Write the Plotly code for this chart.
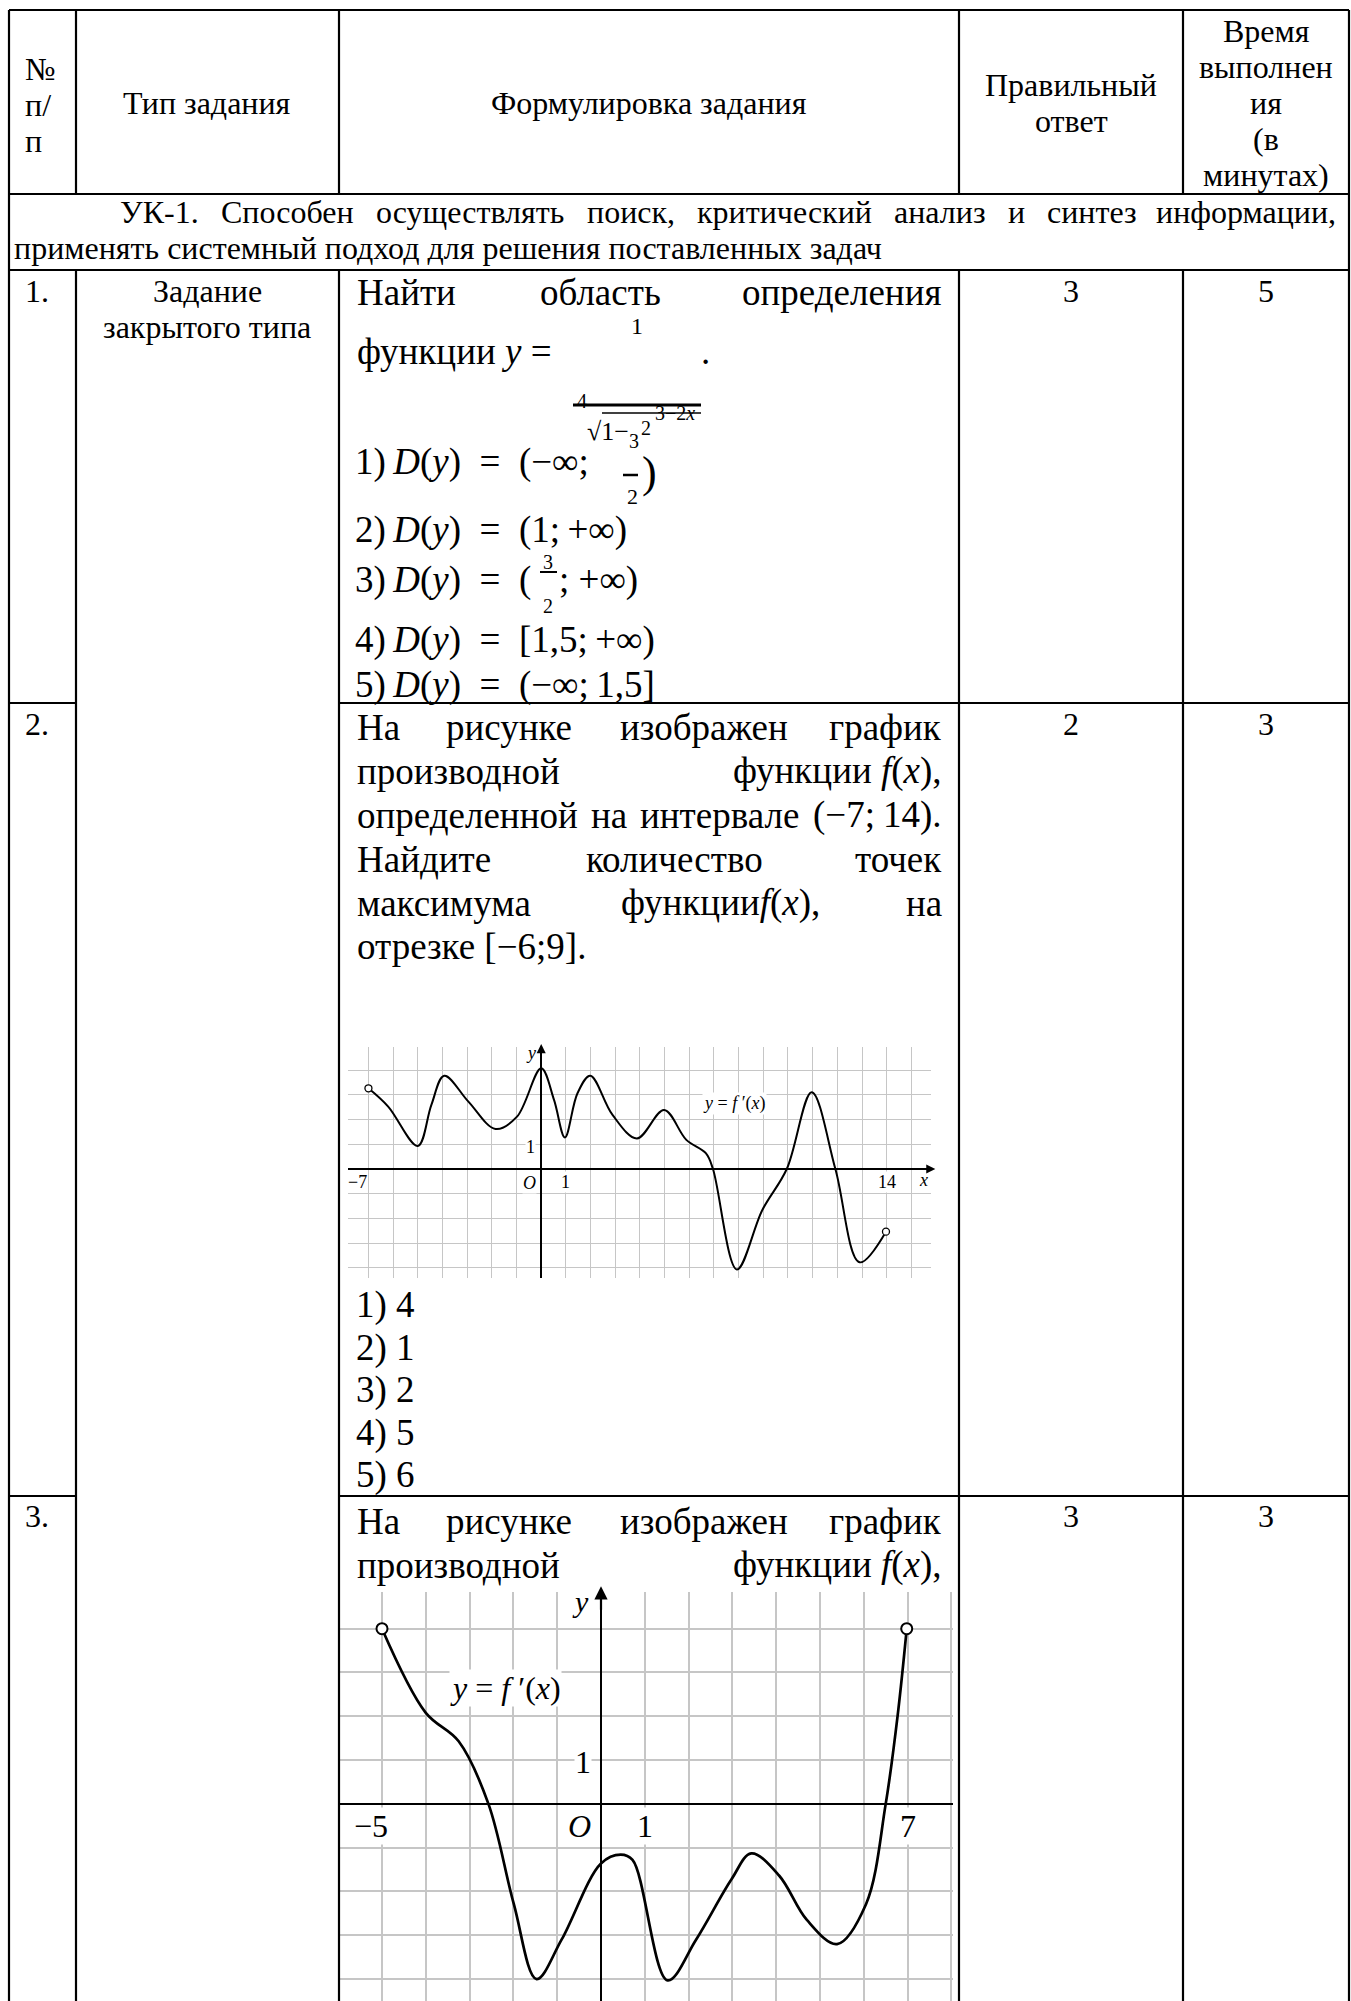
import re
import plotly.graph_objects as go

W, H = 1351, 2001

# ---------------- data ----------------
# graph in task 2: y = f'(x) on (-7; 14)
g1_x = [-7, -6.2, -5, -4.45, -3.93, -2.95, -1.85, -0.98, 0, 0.52, 0.96, 1.47, 1.99,
        2.89, 3.88, 4.98, 5.88, 6.67, 6.96, 7.93, 8.96, 9.95, 10.96, 11.92, 12.9, 13.97]
g1_y = [3.27, 2.53, 0.93, 2.6, 3.78, 2.73, 1.62, 2.12, 4.08, 2.8, 1.28, 3.07, 3.78,
        2.19, 1.24, 2.39, 1.18, 0.64, 0.0, -4.07, -1.66, 0.0, 3.11, 0.0, -3.78, -2.54]
g1_ticks_x = ["−7", "1", "14"]
g1_ticks_xv = [-7, 1, 14]

# graph in task 3: y = f'(x) on (-5; 7)
g2_x = [-5, -4, -3.25, -2.57, -1.99, -1.47, -0.9, 0, 0.45, 0.72, 1.52, 2.17, 2.98,
        3.43, 4.07, 4.7, 5.39, 6.05, 6.5, 6.78, 6.98]
g2_y = [4.0, 2.08, 1.43, 0.0, -2.29, -4.0, -3.1, -1.36, -1.16, -1.28, -4.03, -3.1, -1.72,
        -1.13, -1.64, -2.65, -3.2, -2.29, 0.0, 2.08, 4.0]
g2_ticks_x = ["−5", "1", "7"]
g2_ticks_xv = [-5, 1, 7]

header_no = ["№", "п/", "п"]
header_type = "Тип задания"
header_form = "Формулировка задания"
header_ans = ["Правильный", "ответ"]
header_time = ["Время", "выполнен", "ия", "(в", "минутах)"]
uk_line1 = ["УК-1.", "Способен", "осуществлять", "поиск,", "критический", "анализ", "и", "синтез", "информации,"]
uk_line2 = "применять системный подход для решения поставленных задач"
task_nums = ["1.", "2.", "3."]
task_type = ["Задание", "закрытого типа"]
answers = ["3", "2", "3"]
times = ["5", "3", "3"]
t2_options = ["1) 4", "2) 1", "3) 2", "4) 5", "5) 6"]

# ---------------- helpers ----------------
CW = {'а': .444, 'б': .509, 'в': .472, 'г': .410, 'д': .509, 'е': .444, 'ж': .691, 'з': .395,
      'и': .535, 'й': .535, 'к': .486, 'л': .499, 'м': .633, 'н': .535, 'о': .5, 'п': .535,
      'р': .5, 'с': .444, 'т': .437, 'у': .5, 'ф': .648, 'х': .5, 'ц': .535, 'ч': .503,
      'ш': .770, 'щ': .770, 'ъ': .517, 'ы': .672, 'ь': .456, 'э': .429, 'ю': .747, 'я': .485,
      'Н': .722, 'У': .707, 'К': .667, 'С': .667, 'Ф': .790, 'Т': .611, 'П': .722, 'В': .667,
      'З': .501, ' ': .25, ',': .25, '.': .25, ';': .278, '(': .333, ')': .333, '[': .333,
      ']': .333, '-': .333, '−': .564, '=': .564, '+': .564, '∞': .713, 'f': .278, 'x': .444,
      'y': .444, 'D': .722}
FONT = "Liberation Serif"


def tw(s, fs):
    s = re.sub(r"<[^>]+>", "", s)
    return sum(CW.get(c, 0.5) for c in s) * fs


anns = []
shapes = []


def px(x):
    return x / W


def py(y):
    return 1 - y / H


def txt(t, x, y, fs, anchor="left", ref="paper", bg=None):
    d = dict(text=t, showarrow=False, font=dict(family=FONT, size=fs, color="black"),
             xanchor=anchor, yanchor="middle")
    if ref == "paper":
        d.update(x=px(x), y=py(y), xref="paper", yref="paper")
    else:
        d.update(x=x, y=y, xref="x" + ref, yref="y" + ref)
    if bg:
        d.update(bgcolor=bg, borderpad=0)
    anns.append(d)


def justify(words, left, right, y, fs):
    ws = [tw(w, fs) for w in words]
    gap = (right - left - sum(ws)) / (len(words) - 1)
    x = left
    for i, (w, wd) in enumerate(zip(words, ws)):
        if i == len(words) - 1:
            txt(w, right, y, fs, "right")
        else:
            txt(w, x, y, fs, "left")
            x += wd + gap


def hline(x0, x1, y, w=2.2):
    shapes.append(dict(type="line", xref="paper", yref="paper", x0=px(x0), x1=px(x1),
                       y0=py(y), y1=py(y), line=dict(color="black", width=w)))


def vline(x, y0, y1, w=2.2):
    shapes.append(dict(type="line", xref="paper", yref="paper", x0=px(x), x1=px(x),
                       y0=py(y0), y1=py(y1), line=dict(color="black", width=w)))


# ---------------- table grid ----------------
C = [9, 76, 339, 959, 1183, 1349]
R_TOP, R_HEAD, R_UK, R_1, R_2 = 10, 194, 270, 703, 1496
hline(C[0], C[-1], R_TOP)
hline(C[0], C[-1], R_HEAD)
hline(C[0], C[-1], R_UK)
for yy in (R_1, R_2):
    hline(C[0], C[1], yy)
    hline(C[2], C[-1], yy)
for c in C:
    vline(c, R_TOP, R_HEAD)
vline(C[0], R_HEAD, R_UK)
vline(C[-1], R_HEAD, R_UK)
for c in C:
    vline(c, R_UK, H + 5)

FS_S = 32   # 12 pt
FS_L = 37   # 14 pt

# header
for i, t in enumerate(header_no):
    txt(t, 23, 69 + 36 * i, FS_S)
txt(header_type, (C[1] + C[2]) / 2, 103, FS_S, "center")
txt(header_form, (C[2] + C[3]) / 2, 103, FS_S, "center")
for i, t in enumerate(header_ans):
    txt(t, (C[3] + C[4]) / 2, 85 + 36 * i, FS_S, "center")
for i, t in enumerate(header_time):
    txt(t, (C[4] + C[5]) / 2, 31 + 36 * i, FS_S, "center")

# competence row
justify(uk_line1, 118, 1338, 212, FS_S)
txt(uk_line2, 12, 248, FS_S)

# left / right columns
row_y = [291, 724, 1516]
for i in range(3):
    txt(task_nums[i], 23, row_y[i], FS_S)
    txt(answers[i], (C[3] + C[4]) / 2, row_y[i], FS_S, "center")
    txt(times[i], (C[4] + C[5]) / 2, row_y[i], FS_S, "center")
txt(task_type[0], (C[1] + C[2]) / 2, 291, FS_S, "center")
txt(task_type[1], (C[1] + C[2]) / 2, 327, FS_S, "center")

L, R = 355, 944
# task 1
justify(["Найти", "область", "определения"], L, R, 293, FS_L)
txt("функции <i>y</i> =", L, 352, FS_L)
txt("1", 637, 326, 24, "center")
txt(".", 705, 352, FS_L, "center")
shapes.append(dict(type="line", xref="paper", yref="paper", x0=px(573), x1=px(701),
                   y0=py(405), y1=py(405), line=dict(color="black", width=3)))
shapes.append(dict(type="line", xref="paper", yref="paper", x0=px(602), x1=px(701),
                   y0=py(413), y1=py(413), line=dict(color="black", width=1.6)))
txt("4", 582, 401, 20, "center")
txt("3−2<i>x</i>", 675, 413, 20, "center")
txt("√1−", 585, 432, 26)
txt("2", 646, 428, 20, "center")
txt("3", 634, 441, 20, "center")
shapes.append(dict(type="line", xref="paper", yref="paper", x0=px(623), x1=px(638),
                   y0=py(475), y1=py(475), line=dict(color="black", width=2.5)))
txt(")", 649, 473, 44, "center")
txt("2", 632, 497, 22, "center")
txt("3", 548, 562, 20, "center")
shapes.append(dict(type="line", xref="paper", yref="paper", x0=px(540), x1=px(557),
                   y0=py(572), y1=py(572), line=dict(color="black", width=2)))
txt("2", 548, 606, 20, "center")
DY = "<i>D</i>(<i>y</i>)\u2002=\u2002"
txt("1)\u2009" + DY + "(−∞;", 353, 462, FS_L)
txt("2)\u2009" + DY + "(1;\u2009+∞)", 353, 530, FS_L)
txt("3)\u2009" + DY + "(", 353, 580, FS_L)
txt("; +∞)", 557, 580, FS_L)
txt("4)\u2009" + DY + "[1,5;\u2009+∞)", 353, 640, FS_L)
txt("5)\u2009" + DY + "(−∞;\u20091,5]", 353, 685, FS_L)

# task 2
t2 = [["На", "рисунке", "изображен", "график"],
      ["производной", "функции <i>f</i>(<i>x</i>),"],
      ["определенной", "на", "интервале", "(−7;", "14)."],
      ["Найдите", "количество", "точек"],
      ["максимума", "функции<i>f</i>(<i>x</i>),", "на"]]
for i, words in enumerate(t2):
    justify(words, L, R, 727 + 44 * i, FS_L)
txt("отрезке [−6;9].", L, 947, FS_L)
for i, t in enumerate(t2_options):
    txt(t, 354, 1305 + 42.5 * i, FS_L)

# task 3
justify(["На", "рисунке", "изображен", "график"], L, R, 1521, FS_L)
justify(["производной", "функции <i>f</i>(<i>x</i>),"], L, R, 1565, FS_L)

# ---------------- graphs ----------------
GRID = "#c6c6c6"
fig = go.Figure()

# graph 1 geometry (pixels)
g1_x0px, g1_y0px, g1_u = 541.2, 1169.0, 24.68
g1_xr, g1_yr = [-7.84, 15.81], [-4.43, 4.96]
g1_dom_x = [(g1_x0px + g1_xr[0] * g1_u) / W, (g1_x0px + g1_xr[1] * g1_u) / W]
g1_dom_y = [1 - (g1_y0px - g1_yr[0] * g1_u) / H, 1 - (g1_y0px - g1_yr[1] * g1_u) / H]

# graph 2 geometry
g2_x0px, g2_y0px, g2_u = 601.0, 1803.9, 43.8
g2_xr, g2_yr = [-5.96, 8.04], [-4.5, 4.84]
g2_dom_x = [(g2_x0px + g2_xr[0] * g2_u) / W, (g2_x0px + g2_xr[1] * g2_u) / W]
g2_dom_y = [max(0, 1 - (g2_y0px - g2_yr[0] * g2_u) / H), 1 - (g2_y0px - g2_yr[1] * g2_u) / H]

fig.add_trace(go.Scatter(x=g1_x, y=g1_y, mode="lines", xaxis="x", yaxis="y",
                         line=dict(color="black", width=2, shape="spline", smoothing=1.0),
                         hoverinfo="skip"))
fig.add_trace(go.Scatter(x=[g1_x[0], g1_x[-1]], y=[g1_y[0], g1_y[-1]], mode="markers",
                         xaxis="x", yaxis="y", cliponaxis=False,
                         marker=dict(size=7, color="white", line=dict(color="black", width=1.3)),
                         hoverinfo="skip"))
fig.add_trace(go.Scatter(x=g2_x, y=g2_y, mode="lines", xaxis="x2", yaxis="y2",
                         line=dict(color="black", width=2.7, shape="spline", smoothing=1.0),
                         hoverinfo="skip"))
fig.add_trace(go.Scatter(x=[g2_x[0], g2_x[-1]], y=[g2_y[0], g2_y[-1]], mode="markers",
                         xaxis="x2", yaxis="y2", cliponaxis=False,
                         marker=dict(size=11, color="white", line=dict(color="black", width=2)),
                         hoverinfo="skip"))


def ax(dom, rng, anchor, gw, zw):
    return dict(domain=dom, range=rng, anchor=anchor, tick0=0, dtick=1, showgrid=True,
                gridcolor=GRID, gridwidth=gw, zeroline=True, zerolinecolor="black",
                zerolinewidth=zw, showticklabels=False, ticks="", showline=False,
                fixedrange=True)


# graph labels
LF1 = 18
txt("<i>y</i>", -0.43, 4.69, LF1, "center", "")
txt("<i>x</i>", 15.5, -0.45, LF1, "center", "")
for t, v in zip(g1_ticks_x, g1_ticks_xv):
    txt(t, v - (0.44 if v < 0 else 0.0), -0.51, LF1, "center", "", "white")
txt("<i>O</i>", -0.47, -0.56, LF1, "center", "", "white")
txt("1", -0.43, 0.9, LF1, "center", "", "white")
txt("<i>y</i> = <i>f</i> ′(<i>x</i>)", 7.85, 2.66, LF1, "center", "", "white")

LF2 = 32
txt("<i>y</i>", -0.46, 4.62, 30, "center", "2")
for t, v in zip(g2_ticks_x, g2_ticks_xv):
    txt(t, v - (0.24 if v < 0 else 0.0), -0.5, LF2, "center", "2", "white")
txt("<i>O</i>", -0.5, -0.5, LF2, "center", "2", "white")
txt("1", -0.41, 0.95, LF2, "center", "2", "white")
txt("<i>y</i> = <i>f</i> ′(<i>x</i>)", -2.17, 2.65, LF2, "center", "2", "white")

# axis arrows
anns.append(dict(x=15.97, y=0, ax=15.2, ay=0, xref="x", yref="y", axref="x", ayref="y",
                 showarrow=True, arrowhead=2, arrowsize=1.3, arrowwidth=1.4, arrowcolor="black", text=""))
anns.append(dict(x=0, y=5.06, ax=0, ay=4.3, xref="x", yref="y", axref="x", ayref="y",
                 showarrow=True, arrowhead=2, arrowsize=1.3, arrowwidth=1.4, arrowcolor="black", text=""))
anns.append(dict(x=0, y=4.97, ax=0, ay=4.4, xref="x2", yref="y2", axref="x2", ayref="y2",
                 showarrow=True, arrowhead=2, arrowsize=1.2, arrowwidth=2.2, arrowcolor="black", text=""))

fig.update_layout(
    width=W, height=H, margin=dict(l=0, r=0, t=0, b=0),
    paper_bgcolor="white", plot_bgcolor="rgba(0,0,0,0)", showlegend=False,
    font=dict(family=FONT),
    xaxis=ax(g1_dom_x, g1_xr, "y", 1.2, 1.5),
    yaxis=ax(g1_dom_y, g1_yr, "x", 1.2, 1.5),
    xaxis2=ax(g2_dom_x, g2_xr, "y2", 1.6, 2.3),
    yaxis2=ax(g2_dom_y, g2_yr, "x2", 1.6, 2.3),
    annotations=anns, shapes=shapes, hovermode=False,
)

fig.write_html("out.html", config={"displayModeBar": False},
               post_script="document.body.style.margin='0';document.body.style.overflow='hidden';")
